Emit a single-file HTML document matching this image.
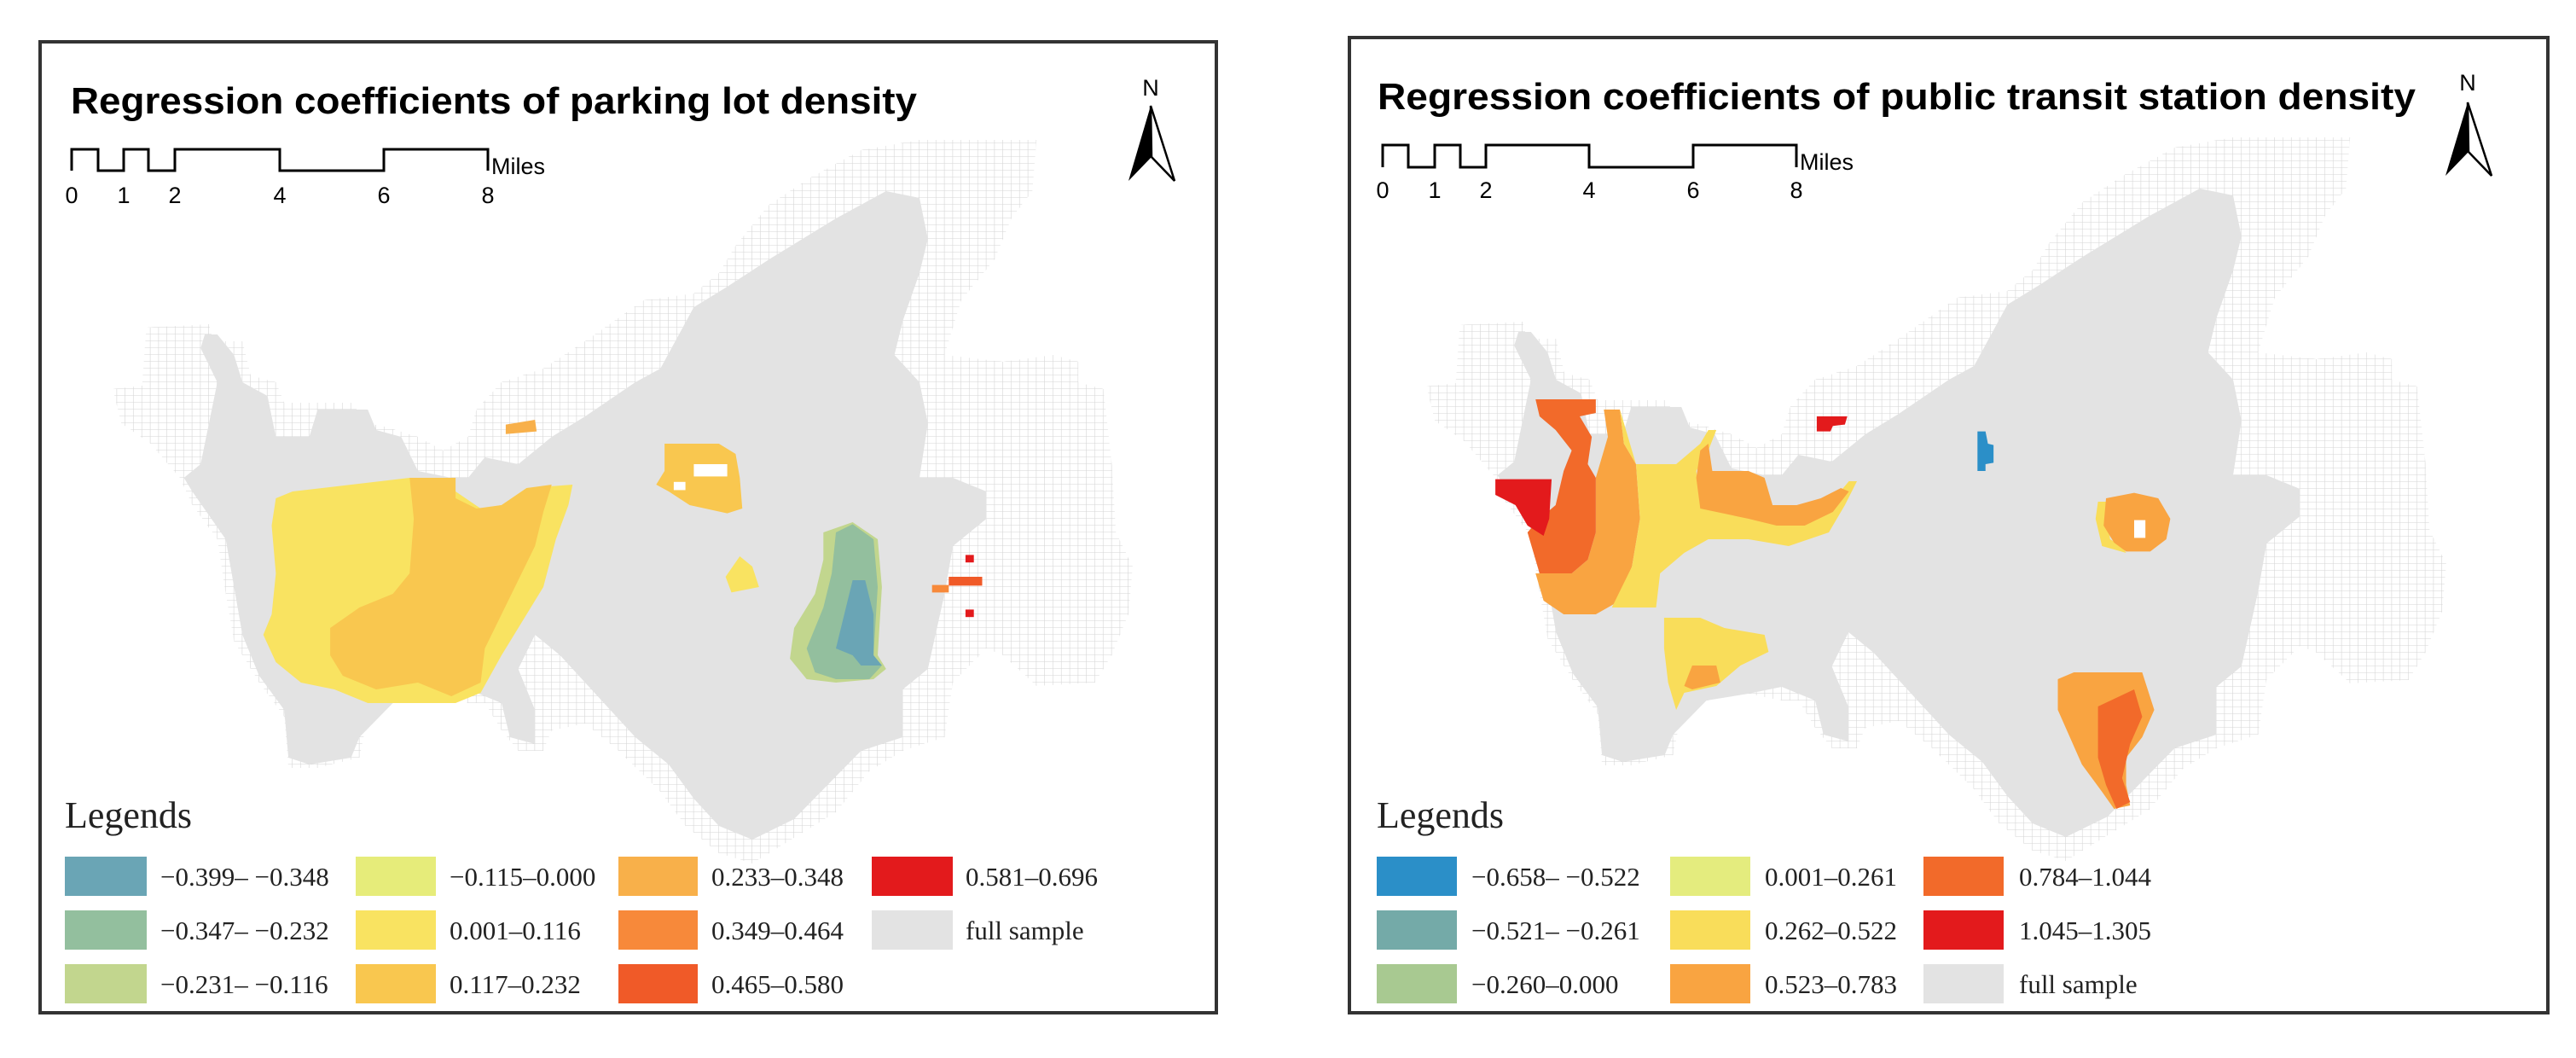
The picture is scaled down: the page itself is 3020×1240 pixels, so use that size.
<!DOCTYPE html>
<html><head><meta charset="utf-8"><style>
html,body{margin:0;padding:0;background:#fff;}
svg{display:block;}
.t{font-family:"Liberation Sans",sans-serif;font-weight:bold;font-size:44px;fill:#000;}
.s{font-family:"Liberation Sans",sans-serif;font-size:27px;fill:#000;}
.l{font-family:"Liberation Serif",serif;font-size:31px;fill:#222;}
.lh{font-family:"Liberation Serif",serif;font-size:44px;fill:#222;}
</style></head><body>
<svg width="3020" height="1240" viewBox="0 0 3020 1240" xmlns="http://www.w3.org/2000/svg">
<defs>
<pattern id="grid" patternUnits="userSpaceOnUse" width="10" height="10">
<rect width="10" height="10" fill="#fff"/>
<path d="M10 0V10H0" fill="none" stroke="#d6d6d6" stroke-width="1.2"/>
</pattern>
<g id="base">
<polygon fill="url(#grid)" points="135,570 170,565 175,480 250,475 255,500 290,500 300,550 330,560 340,590 420,590 440,620 460,625 500,640 530,660 560,640 570,600 600,560 650,540 700,500 770,440 830,430 860,400 880,360 920,300 970,260 1030,220 1100,205 1240,205 1235,280 1210,320 1190,380 1150,440 1130,520 1200,530 1260,520 1290,530 1290,560 1320,570 1330,680 1335,780 1355,830 1350,900 1330,960 1310,1000 1240,1005 1200,960 1180,950 1140,1000 1130,1080 1080,1100 1040,1130 1000,1190 960,1220 900,1265 860,1250 820,1210 790,1160 740,1100 700,1060 660,1070 650,1100 620,1100 600,1070 580,1030 560,1030 520,1020 470,1030 440,1050 430,1110 380,1125 345,1125 340,1050 310,1000 280,940 270,870 260,790 230,740 215,700 180,650 145,620"/>
<polygon fill="#e3e3e3" points="245,490 260,490 280,520 290,560 320,580 330,640 370,640 380,600 440,600 450,630 480,640 500,690 540,700 560,700 580,670 620,680 660,640 700,610 760,560 790,540 830,450 870,420 920,380 1000,320 1060,280 1100,290 1110,350 1100,400 1080,470 1070,520 1100,560 1110,620 1100,700 1140,700 1180,720 1180,760 1140,800 1130,870 1110,980 1080,1010 1080,1080 1030,1100 990,1150 950,1200 900,1230 860,1210 830,1170 800,1120 760,1080 730,1040 700,1000 670,960 640,930 620,980 640,1040 640,1090 610,1080 600,1030 560,1010 520,1020 470,1030 430,1080 420,1110 370,1120 345,1110 340,1040 310,990 290,930 280,860 270,790 230,720 220,700 240,680 250,620 260,560 240,510"/>
</g>
</defs>

<!-- LEFT PANEL -->
<g>
<rect x="47" y="49" width="1379" height="1138" fill="none" stroke="#333" stroke-width="4"/>
<text class="t" x="83" y="133" textLength="992" lengthAdjust="spacingAndGlyphs">Regression coefficients of parking lot density</text>
<g>
<path d="M84 200V175H115V200H145V175H174V200H205V175H328V200H450V175H572V200" fill="none" stroke="#000" stroke-width="3"/>
<text class="s" x="576" y="204">Miles</text>
<text class="s" x="84" y="238" text-anchor="middle">0</text>
<text class="s" x="145" y="238" text-anchor="middle">1</text>
<text class="s" x="205" y="238" text-anchor="middle">2</text>
<text class="s" x="328" y="238" text-anchor="middle">4</text>
<text class="s" x="450" y="238" text-anchor="middle">6</text>
<text class="s" x="572" y="238" text-anchor="middle">8</text>
</g>
<g>
<text class="s" x="1349" y="112" text-anchor="middle" font-size="32">N</text>
<polygon points="1349,124 1323,212 1350,184" fill="#000"/>
<polygon points="1349,124 1377,212 1350,184" fill="none" stroke="#000" stroke-width="2.5"/>
</g>
<g transform="scale(0.98,0.8)">
<use href="#base"/>
<polygon fill="#f9e361" points="330,730 350,720 490,700 540,700 545,720 575,745 600,740 630,715 685,710 680,740 665,790 650,860 630,900 600,960 575,1015 545,1030 500,1030 440,1030 400,1010 360,1000 330,970 315,930 325,900 330,840 325,770"/>
<polygon fill="#f9c74f" points="490,700 545,700 545,730 570,745 600,740 630,715 660,710 650,750 640,800 620,850 600,900 580,950 575,1000 540,1020 500,1000 450,1010 410,990 395,960 395,920 430,890 470,870 490,840 495,760"/>
<polygon fill="#f8b04a" points="605,622 640,615 642,632 605,636"/>
<polygon fill="#f9c74f" points="795,650 860,650 880,665 885,700 888,745 870,752 825,740 800,720 785,710 795,690"/>
<rect x="830" y="680" width="40" height="18" fill="#fff"/><rect x="806" y="706" width="14" height="12" fill="#fff"/>
<polygon fill="#f9e361" points="885,815 900,830 908,860 875,868 868,845"/>
<polygon fill="#c2d68e" points="985,780 1020,765 1050,790 1055,860 1050,960 1060,980 1045,995 1000,1000 965,995 945,965 950,920 975,870 985,820"/>
<polygon fill="#93bf9e" points="1000,780 1020,768 1045,790 1050,860 1045,960 1055,975 1040,995 1000,995 975,985 965,950 985,890 995,840"/>
<polygon fill="#6aa5b5" points="1020,850 1035,850 1045,900 1045,960 1055,975 1030,975 1020,960 1000,950 1010,900"/>
<rect x="1155" y="813" width="10" height="11" fill="#e31a1c"/>
<rect x="1135" y="845" width="40" height="13" fill="#f05a28"/>
<rect x="1115" y="857" width="20" height="11" fill="#f7893a"/>
<rect x="1155" y="893" width="10" height="11" fill="#e31a1c"/>
</g>
<text class="lh" x="76" y="970">Legends</text>
<g>
<rect x="76" y="1004" width="96" height="46" fill="#6aa5b5"/><text class="l" x="188" y="1038">−0.399– −0.348</text>
<rect x="76" y="1067" width="96" height="46" fill="#93bf9e"/><text class="l" x="188" y="1101">−0.347– −0.232</text>
<rect x="76" y="1130" width="96" height="46" fill="#c2d68e"/><text class="l" x="188" y="1164">−0.231– −0.116</text>
<rect x="417" y="1004" width="94" height="46" fill="#e6ec7a"/><text class="l" x="527" y="1038">−0.115–0.000</text>
<rect x="417" y="1067" width="94" height="46" fill="#f9e361"/><text class="l" x="527" y="1101">0.001–0.116</text>
<rect x="417" y="1130" width="94" height="46" fill="#f9c74f"/><text class="l" x="527" y="1164">0.117–0.232</text>
<rect x="725" y="1004" width="93" height="46" fill="#f8b04a"/><text class="l" x="834" y="1038">0.233–0.348</text>
<rect x="725" y="1067" width="93" height="46" fill="#f7893a"/><text class="l" x="834" y="1101">0.349–0.464</text>
<rect x="725" y="1130" width="93" height="46" fill="#f05a28"/><text class="l" x="834" y="1164">0.465–0.580</text>
<rect x="1022" y="1004" width="95" height="46" fill="#e31a1c"/><text class="l" x="1132" y="1038">0.581–0.696</text>
<rect x="1022" y="1067" width="95" height="46" fill="#e3e3e3"/><text class="l" x="1132" y="1101">full sample</text>
</g>
</g>

<!-- RIGHT PANEL -->
<g>
<rect x="1582" y="44" width="1405" height="1143" fill="none" stroke="#333" stroke-width="4"/>
<text class="t" x="1615" y="128" textLength="1217" lengthAdjust="spacingAndGlyphs">Regression coefficients of public transit station density</text>
<g>
<path d="M1621 196V170H1651V196H1682V170H1712V196H1742V170H1863V196H1985V170H2106V196" fill="none" stroke="#000" stroke-width="3"/>
<text class="s" x="2110" y="199">Miles</text>
<text class="s" x="1621" y="232" text-anchor="middle">0</text>
<text class="s" x="1682" y="232" text-anchor="middle">1</text>
<text class="s" x="1742" y="232" text-anchor="middle">2</text>
<text class="s" x="1863" y="232" text-anchor="middle">4</text>
<text class="s" x="1985" y="232" text-anchor="middle">6</text>
<text class="s" x="2106" y="232" text-anchor="middle">8</text>
</g>
<g>
<text class="s" x="2893" y="106" text-anchor="middle" font-size="32">N</text>
<polygon points="2893,120 2867,206 2894,178" fill="#000"/>
<polygon points="2893,120 2921,206 2894,178" fill="none" stroke="#000" stroke-width="2.5"/>
</g>
<g>
<g transform="translate(1540,-3) scale(0.98,0.8)"><use href="#base"/></g>
<g transform="translate(1560,0) scale(0.942,0.8)">
<polygon fill="#f9a441" points="340,600 360,600 365,650 380,680 385,760 375,830 360,880 330,900 290,900 265,880 255,840 300,840 320,820 330,780 330,700 345,640"/>
<polygon fill="#f9dd5a" points="360,600 365,620 380,680 430,680 460,650 470,630 480,630 470,660 455,690 460,740 520,760 560,770 590,760 620,740 645,705 655,705 640,740 620,780 570,800 520,790 470,790 440,810 410,840 405,890 350,890 375,830 385,760 380,680 365,650"/>
<polygon fill="#f9a441" points="460,660 470,650 475,690 520,690 540,700 550,740 580,740 610,730 635,715 645,720 625,750 590,770 555,770 520,760 460,745 455,700"/>
<polygon fill="#f26a2a" points="255,585 330,585 330,605 310,610 325,640 320,680 330,700 330,780 320,820 300,840 260,840 250,800 245,780 260,760 280,740 290,690 300,660 280,630 260,610"/>
<polygon fill="#e31a1c" points="205,702 275,702 272,760 265,785 245,770 230,740 205,725"/>
<polygon fill="#e31a1c" points="605,610 643,610 640,622 625,624 622,632 605,632"/>
<polygon fill="#2b8fc8" points="805,632 815,632 818,650 825,652 825,678 815,680 815,690 805,690"/>
<polygon fill="#f9dd5a" points="955,735 965,735 970,790 985,800 990,810 960,800 952,760"/>
<polygon fill="#f9a441" points="965,730 1000,722 1030,730 1045,760 1040,790 1020,808 990,808 975,795 962,770"/>
<rect x="1000" y="762" width="14" height="26" fill="#fff"/>
<polygon fill="#f9dd5a" points="415,905 460,905 490,920 540,930 545,955 510,975 480,1005 440,1015 430,1040 420,1000 415,950"/>
<polygon fill="#f9a441" points="450,975 480,975 485,1000 450,1010 440,1005"/>
<polygon fill="#f9a441" points="905,995 925,985 1010,985 1025,1040 1010,1080 990,1110 990,1150 995,1180 975,1185 960,1160 935,1120 920,1080 905,1040"/>
<polygon fill="#f26a2a" points="955,1035 1000,1010 1010,1050 995,1090 985,1140 995,1175 978,1185 965,1150 955,1110"/>
</g>
</g>
<text class="lh" x="1614" y="970">Legends</text>
<g>
<rect x="1614" y="1004" width="94" height="46" fill="#2b8fc8"/><text class="l" x="1725" y="1038">−0.658– −0.522</text>
<rect x="1614" y="1067" width="94" height="46" fill="#74aaa8"/><text class="l" x="1725" y="1101">−0.521– −0.261</text>
<rect x="1614" y="1130" width="94" height="46" fill="#a8c991"/><text class="l" x="1725" y="1164">−0.260–0.000</text>
<rect x="1958" y="1004" width="94" height="46" fill="#e4ec7e"/><text class="l" x="2069" y="1038">0.001–0.261</text>
<rect x="1958" y="1067" width="94" height="46" fill="#f9dd5a"/><text class="l" x="2069" y="1101">0.262–0.522</text>
<rect x="1958" y="1130" width="94" height="46" fill="#f9a441"/><text class="l" x="2069" y="1164">0.523–0.783</text>
<rect x="2255" y="1004" width="94" height="46" fill="#f26a2a"/><text class="l" x="2367" y="1038">0.784–1.044</text>
<rect x="2255" y="1067" width="94" height="46" fill="#e31a1c"/><text class="l" x="2367" y="1101">1.045–1.305</text>
<rect x="2255" y="1130" width="94" height="46" fill="#e3e3e3"/><text class="l" x="2367" y="1164">full sample</text>
</g>
</g>
</svg>
</body></html>
